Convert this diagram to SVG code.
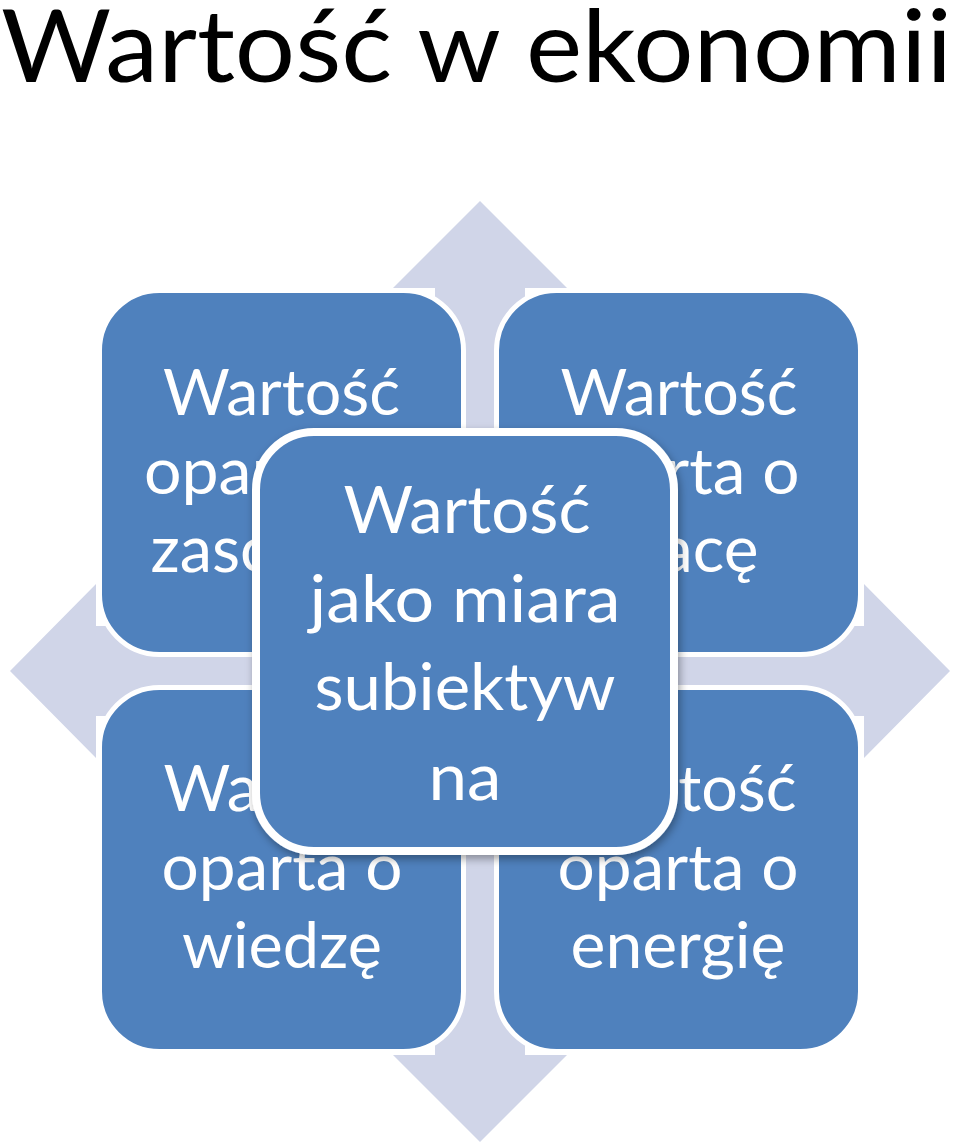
<svg xmlns="http://www.w3.org/2000/svg" width="960" height="1148" viewBox="0 0 960 1148">
  <defs>
    <style>
      .box { fill: #4f81bd; stroke: #ffffff; stroke-width: 5; }
      .center { fill: #4f81bd; stroke: #ffffff; stroke-width: 8; }
      .t { font-family: Lato, "Liberation Sans", sans-serif; fill: #ffffff; text-anchor: middle; font-size: 63px; }
      .tc { font-family: Lato, "Liberation Sans", sans-serif; fill: #ffffff; text-anchor: middle; font-size: 66px; }
      .title { font-family: Lato, "Liberation Sans", sans-serif; fill: #000000; font-size: 100px; }
    </style>
    <filter id="shadow" x="-10%" y="-10%" width="125%" height="125%">
      <feDropShadow dx="2" dy="4" stdDeviation="4" flood-color="#000000" flood-opacity="0.35"/>
    </filter>
  </defs>
  <rect width="960" height="1148" fill="#ffffff"/>

  <text class="title" x="1" y="82" textLength="951" lengthAdjust="spacingAndGlyphs">Wartość w ekonomii</text>

  <g id="arrows">
    <path fill="#d0d5e8" d="M480,201 L567,288 L525,288 L525,626 L864,626 L864,584 L950,671 L864,758 L864,716 L525,716 L525,1055 L567,1055 L480,1142 L393,1055 L435,1055 L435,716 L96,716 L96,758 L10,671 L96,584 L96,626 L435,626 L435,288 L393,288 Z"/>
  </g>

  <g id="node-zasoby">
    <rect class="box" x="99.5" y="290.5" width="364" height="364" rx="60"/>
    <text class="t" x="281.5" y="415" textLength="237" lengthAdjust="spacingAndGlyphs">Wartość</text>
    <text class="t" x="281.5" y="494" textLength="275" lengthAdjust="spacingAndGlyphs">oparta na</text>
    <text class="t" x="281.5" y="572" textLength="262" lengthAdjust="spacingAndGlyphs">zasobach</text>
  </g>

  <g id="node-prace">
    <rect class="box" x="496.5" y="290.5" width="364" height="364" rx="60"/>
    <text class="t" x="679" y="415" textLength="237" lengthAdjust="spacingAndGlyphs">Wartość</text>
    <text class="t" x="679" y="494" textLength="241" lengthAdjust="spacingAndGlyphs">oparta o</text>
    <text class="t" x="679" y="572" textLength="159" lengthAdjust="spacingAndGlyphs">pracę</text>
  </g>

  <g id="node-wiedze">
    <rect class="box" x="99.5" y="687.5" width="364" height="364" rx="60"/>
    <text class="t" x="282" y="811" textLength="237" lengthAdjust="spacingAndGlyphs">Wartość</text>
    <text class="t" x="282" y="890" textLength="241" lengthAdjust="spacingAndGlyphs">oparta o</text>
    <text class="t" x="282" y="968" textLength="200" lengthAdjust="spacingAndGlyphs">wiedzę</text>
  </g>

  <g id="node-energie">
    <rect class="box" x="496.5" y="687.5" width="364" height="364" rx="60"/>
    <text class="t" x="678" y="811" textLength="237" lengthAdjust="spacingAndGlyphs">Wartość</text>
    <text class="t" x="678" y="890" textLength="241" lengthAdjust="spacingAndGlyphs">oparta o</text>
    <text class="t" x="678" y="968" textLength="215" lengthAdjust="spacingAndGlyphs">energię</text>
  </g>

  <g id="node-center">
    <rect class="center" x="256" y="432" width="418" height="419" rx="58" filter="url(#shadow)"/>
    <text class="tc" x="467" y="533" textLength="247" lengthAdjust="spacingAndGlyphs">Wartość</text>
    <text class="tc" x="465" y="622" textLength="311" lengthAdjust="spacingAndGlyphs">jako miara</text>
    <text class="tc" x="465" y="710" textLength="301" lengthAdjust="spacingAndGlyphs">subiektyw</text>
    <text class="tc" x="465" y="800" textLength="73" lengthAdjust="spacingAndGlyphs">na</text>
  </g>
</svg>
